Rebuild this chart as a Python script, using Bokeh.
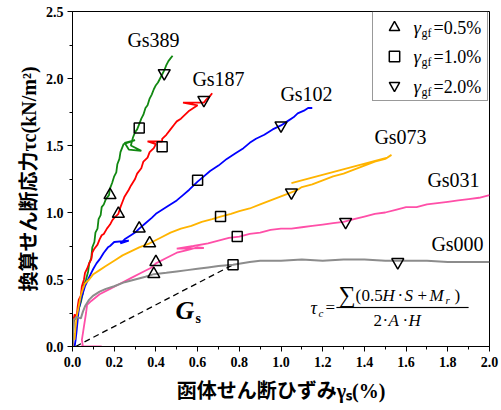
from bokeh.plotting import figure
from bokeh.models import (Label, SingleIntervalTicker, PrintfTickFormatter, Legend,
                          LegendItem, Range1d, BoxAnnotation)
from bokeh.embed import file_html
from bokeh.resources import INLINE

# ---------------- data ----------------
series_names = ["Gs389", "Gs187", "Gs102", "Gs073", "Gs031", "Gs000"]
series_colors = ["#118811", "#FF0000", "#0000FF", "#FFB400", "#FF4FA8", "#8C8C8C"]

gs389_x = [0.000, 0.005, 0.012, 0.020, 0.030, 0.040, 0.050, 0.055, 0.065, 0.075, 0.080, 0.090,
           0.095, 0.105, 0.110, 0.120, 0.125, 0.135, 0.140, 0.150, 0.160, 0.175, 0.180, 0.190,
           0.200, 0.210, 0.215, 0.225, 0.230, 0.245, 0.300, 0.250, 0.270, 0.330, 0.280, 0.290,
           0.300, 0.310, 0.320, 0.330, 0.340, 0.350, 0.360, 0.370, 0.380, 0.390, 0.400, 0.410,
           0.420, 0.430, 0.440, 0.450, 0.460, 0.470, 0.480, 0.475]
gs389_y = [0.00, 0.18, 0.22, 0.20, 0.28, 0.33, 0.40, 0.46, 0.50, 0.56, 0.62, 0.66,
           0.74, 0.78, 0.85, 0.88, 0.95, 0.98, 1.04, 1.06, 1.10, 1.13, 1.18, 1.22,
           1.27, 1.30, 1.36, 1.40, 1.45, 1.51, 1.54, 1.52, 1.47, 1.46, 1.50, 1.56,
           1.60, 1.62, 1.66, 1.70, 1.73, 1.78, 1.80, 1.85, 1.88, 1.92, 1.95, 1.97,
           2.00, 2.03, 2.06, 2.10, 2.13, 2.15, 2.17, 2.16]

gs187_x = [0.000, 0.005, 0.010, 0.020, 0.025, 0.030, 0.040, 0.045, 0.055, 0.060, 0.070, 0.080,
           0.090, 0.095, 0.105, 0.120, 0.130, 0.140, 0.150, 0.165, 0.180, 0.190, 0.200, 0.220,
           0.230, 0.240, 0.250, 0.270, 0.280, 0.300, 0.310, 0.330, 0.340, 0.360, 0.370, 0.390,
           0.400, 0.360, 0.430, 0.430, 0.450, 0.470, 0.490, 0.500, 0.520, 0.540, 0.560, 0.580,
           0.600, 0.530, 0.630, 0.640, 0.660, 0.670]
gs187_y = [0.00, 0.20, 0.24, 0.22, 0.30, 0.35, 0.38, 0.45, 0.50, 0.55, 0.58, 0.62,
           0.65, 0.70, 0.73, 0.76, 0.80, 0.83, 0.84, 0.88, 0.91, 0.94, 0.96, 0.99,
           1.04, 1.08, 1.12, 1.17, 1.20, 1.25, 1.29, 1.33, 1.38, 1.41, 1.45, 1.48,
           1.51, 1.53, 1.53, 1.55, 1.58, 1.62, 1.66, 1.68, 1.70, 1.73, 1.76, 1.78,
           1.80, 1.82, 1.82, 1.84, 1.87, 1.89]

gs102_x = [0.010, 0.015, 0.020, 0.025, 0.030, 0.040, 0.050, 0.060, 0.075, 0.090, 0.100, 0.115,
           0.130, 0.150, 0.170, 0.180, 0.200, 0.270, 0.230, 0.250, 0.280, 0.300, 0.320, 0.350,
           0.380, 0.400, 0.430, 0.460, 0.500, 0.530, 0.560, 0.600, 0.630, 0.660, 0.700, 0.740,
           0.780, 0.820, 0.850, 0.880, 0.920, 0.960, 1.000, 1.030, 1.060, 1.080, 1.110, 1.130,
           1.150]
gs102_y = [0.00, 0.05, 0.12, 0.20, 0.28, 0.35, 0.40, 0.45, 0.50, 0.55, 0.58, 0.62,
           0.65, 0.70, 0.74, 0.75, 0.78, 0.79, 0.77, 0.80, 0.83, 0.85, 0.88, 0.92,
           0.96, 0.99, 1.02, 1.05, 1.09, 1.13, 1.17, 1.23, 1.27, 1.31, 1.35, 1.40,
           1.44, 1.48, 1.52, 1.55, 1.58, 1.62, 1.65, 1.68, 1.71, 1.74, 1.76, 1.78,
           1.78]

gs073_x = [0.000, 0.005, 0.010, 0.015, 0.020, 0.030, 0.040, 0.050, 0.060, 0.080, 0.100, 0.130,
           0.160, 0.200, 0.240, 0.280, 0.320, 0.370, 0.420, 0.470, 0.520, 0.570, 0.620, 0.670,
           0.710, 0.760, 0.800, 0.850, 0.900, 0.950, 1.000, 1.050, 1.080, 1.100, 1.150, 1.200,
           1.250, 1.300, 1.350, 1.400, 1.450, 1.500, 1.530, 1.510, 1.050]
gs073_y = [0.00, 0.10, 0.05, 0.15, 0.22, 0.30, 0.38, 0.43, 0.47, 0.50, 0.54, 0.57,
           0.60, 0.64, 0.68, 0.71, 0.74, 0.77, 0.81, 0.85, 0.88, 0.90, 0.93, 0.95,
           0.97, 0.99, 1.01, 1.03, 1.06, 1.09, 1.12, 1.15, 1.17, 1.19, 1.21, 1.24,
           1.27, 1.29, 1.32, 1.35, 1.38, 1.40, 1.43, 1.41, 1.22]

gs031_x = [0.040, 0.140, 0.050, 0.045, 0.055, 0.065, 0.070, 0.090, 0.130, 0.180, 0.230, 0.280,
           0.330, 0.380, 0.400, 0.450, 0.500, 0.550, 0.600, 0.630, 0.500, 0.580, 0.650, 0.700,
           0.750, 0.800, 0.850, 0.900, 0.950, 1.000, 1.050, 1.100, 1.150, 1.200, 1.250, 1.300,
           1.350, 1.400, 1.450, 1.500, 1.550, 1.600, 1.650, 1.700, 1.750, 1.800, 1.850, 1.900,
           1.950, 2.000]
gs031_y = [0.00, 0.00, 0.00, 0.05, 0.15, 0.25, 0.31, 0.34, 0.39, 0.43, 0.47, 0.51,
           0.55, 0.59, 0.62, 0.66, 0.70, 0.72, 0.74, 0.735, 0.73, 0.75, 0.77, 0.79,
           0.81, 0.82, 0.84, 0.85, 0.87, 0.88, 0.88, 0.89, 0.90, 0.91, 0.92, 0.93,
           0.95, 0.97, 0.99, 1.00, 1.02, 1.04, 1.04, 1.06, 1.07, 1.08, 1.09, 1.10,
           1.11, 1.13]

gs000_x = [0.000, 0.005, 0.020, 0.040, 0.050, 0.060, 0.080, 0.100, 0.130, 0.160, 0.200, 0.250,
           0.300, 0.350, 0.390, 0.450, 0.500, 0.550, 0.600, 0.650, 0.700, 0.770, 0.850, 0.900,
           1.000, 1.100, 1.200, 1.300, 1.400, 1.500, 1.600, 1.700, 1.800, 1.900, 2.000]
gs000_y = [0.00, 0.20, 0.22, 0.21, 0.26, 0.30, 0.35, 0.38, 0.41, 0.43, 0.45, 0.48,
           0.50, 0.52, 0.54, 0.55, 0.56, 0.57, 0.58, 0.59, 0.60, 0.61, 0.63, 0.64,
           0.64, 0.65, 0.64, 0.65, 0.65, 0.64, 0.64, 0.64, 0.63, 0.63, 0.63]

series_x = [gs389_x, gs187_x, gs102_x, gs073_x, gs031_x, gs000_x]
series_y = [gs389_y, gs187_y, gs102_y, gs073_y, gs031_y, gs000_y]

# markers at gamma_gf = 0.5 %, 1.0 %, 2.0 % (order: Gs389..Gs000)
g05_x = [0.18, 0.22, 0.32, 0.37, 0.40, 0.39]
g05_y = [1.13, 0.99, 0.88, 0.77, 0.63, 0.54]
g10_x = [0.32, 0.43, 0.60, 0.71, 0.79, 0.77]
g10_y = [1.63, 1.49, 1.24, 0.97, 0.82, 0.61]
g20_x = [0.44, 0.63, 1.00, 1.05, 1.31, 1.56]
g20_y = [2.04, 1.84, 1.65, 1.15, 0.93, 0.63]
legend_texts = ["=0.5%", "=1.0%", "=2.0%"]

# initial shear stiffness line G_s
gs_line_x = [0.015, 0.77]
gs_line_y = [0.00, 0.61]

x_ticks_interval = 0.2
y_ticks_interval = 0.5
x_title = "函体せん断ひずみγₛ(%)"
y_title = "換算せん断応力τc(kN/m²)"

# ---------------- figure ----------------
SERIF = "'Liberation Serif', 'Times New Roman', serif"
MIXED = "'Liberation Serif', 'Noto Sans CJK JP', serif"

p = figure(width=501, height=410, output_backend="svg", toolbar_location=None,
           x_range=Range1d(0, 2.0), y_range=Range1d(0, 2.5),
           min_border_left=72, min_border_right=12, min_border_top=11, min_border_bottom=64)
p.xgrid.visible = False
p.ygrid.visible = False
p.outline_line_color = "black"
p.outline_line_width = 1
p.background_fill_color = "white"

p.xaxis.ticker = SingleIntervalTicker(interval=x_ticks_interval, num_minor_ticks=2)
p.yaxis.ticker = SingleIntervalTicker(interval=y_ticks_interval, num_minor_ticks=2)
for ax in (p.xaxis, p.yaxis):
    ax.formatter = PrintfTickFormatter(format="%.1f")
    ax.axis_line_color = "black"
    ax.major_tick_line_color = "black"
    ax.minor_tick_line_color = "black"
    ax.major_tick_in = 0
    ax.major_tick_out = 5
    ax.minor_tick_in = 0
    ax.minor_tick_out = 3
    ax.major_label_text_font = SERIF
    ax.major_label_text_font_style = "bold"
    ax.major_label_text_font_size = "14px"
    ax.major_label_text_color = "black"
    ax.axis_label_text_font = MIXED
    ax.axis_label_text_font_style = "bold"
    ax.axis_label_text_font_size = "20px"
    ax.axis_label_text_color = "black"
p.yaxis.major_label_standoff = 4
p.xaxis.major_label_standoff = 5
p.xaxis.axis_label = x_title
p.yaxis.axis_label = y_title
p.xaxis.axis_label_standoff = 10
p.yaxis.axis_label_standoff = 3

# dashed G_s line
p.line(gs_line_x, gs_line_y, line_color="black", line_dash="6 4", line_width=1.3)

# curves
for xs, ys, c in zip(series_x, series_y, series_colors):
    p.line(xs, ys, line_color=c, line_width=2.0 if c == "#8C8C8C" else 1.8)

# markers
r05 = p.scatter(g05_x, g05_y, marker="triangle", size=12, fill_color=None,
                line_color="black", line_width=1.5)
r10 = p.scatter(g10_x, g10_y, marker="square", size=10, fill_color=None,
                line_color="black", line_width=1.5)
r20 = p.scatter(g20_x, g20_y, marker="inverted_triangle", size=12, fill_color=None,
                line_color="black", line_width=1.5)

# legend box with the three marker glyphs (texts drawn as labels below)
legend = Legend(items=[LegendItem(label=" ", renderers=[r05]),
                       LegendItem(label=" ", renderers=[r10]),
                       LegendItem(label=" ", renderers=[r20])],
                location=(300, 245), margin=0, padding=2, spacing=3,
                glyph_width=38, glyph_height=26, label_height=26, label_width=72,
                label_standoff=0, label_text_font_size="10px",
                border_line_color="#333333", border_line_width=1,
                background_fill_alpha=0.0)
p.add_layout(legend)

FL, FB = 72, 346  # frame left / bottom in picture pixels


def put(text, px, py, size, font=SERIF, style="normal", align="left", baseline="middle"):
    p.add_layout(Label(x=px - FL, y=FB - py, x_units="screen", y_units="screen",
                       text=text, text_font=font, text_font_size=f"{size}px",
                       text_font_style=style, text_align=align, level="overlay",
                       text_baseline=baseline, text_color="black"))


# legend texts
for row_y, pct in zip([27, 56, 86], legend_texts):
    put("γ", 413, row_y, 19, style="italic")
    put("gf", 421, row_y + 5, 12)
    put(pct, 433, row_y, 18)

# series labels
label_pos = [(153, 39), (218, 78), (306, 93), (400, 136), (453, 179), (457, 243)]
for name, (lx, ly) in zip(series_names, label_pos):
    put(name, lx, ly, 20, align="center")

# G_s label
put("G", 175, 310, 26, style="bold italic")
put("s", 195, 318, 14, style="bold")

# formula
put("τ", 310, 307, 18, style="italic")
put("c", 318, 312, 11, style="italic")
put("=", 325, 307, 17)
p.add_layout(BoxAnnotation(left=336 - FL, right=468 - FL, bottom=FB - 307.5, top=FB - 306.5,
                           left_units="screen", right_units="screen",
                           bottom_units="screen", top_units="screen",
                           fill_color="black", fill_alpha=1.0, line_color="black",
                           line_width=0.5))
put("∑", 338, 294, 24)
put("(", 355, 295, 17)
put("0.5", 361, 295, 17)
put("H", 382, 295, 17, style="italic")
put("·", 397, 295, 17)
put("S", 404, 295, 17, style="italic")
put("+", 417, 295, 17)
put("M", 429, 295, 17, style="italic")
put("r", 445, 299, 11, style="italic")
put(")", 454, 295, 17)
put("2", 373, 320, 17)
put("·", 382, 320, 17)
put("A", 388, 320, 17, style="italic")
put("·", 402, 320, 17)
put("H", 408, 320, 17, style="italic")

open("out.html", "w").write(file_html(p, INLINE))
